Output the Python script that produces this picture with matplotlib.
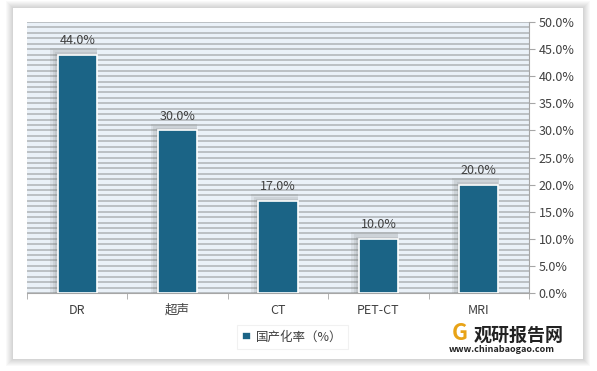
import matplotlib.pyplot as plt
import numpy as np
from matplotlib.patches import Rectangle
from matplotlib.ticker import FuncFormatter, MultipleLocator

plt.rcParams['font.family'] = ['Noto Sans CJK SC', 'DejaVu Sans']

categories = ['DR', '超声', 'CT', 'PET-CT', 'MRI']
values = [44.0, 30.0, 17.0, 10.0, 20.0]
legend_label = '国产化率（%）'

bar_color = '#1B6486'

fig = plt.figure(figsize=(5.97, 3.71), dpi=100)
fig.patch.set_facecolor('white')

# outer card with soft shadow (pixel coords -> figure fractions)
W, H = 597, 371
cx0, cy0, cx1, cy1 = 13, 8, 583, 359
for d in range(7, 0, -1):
    fig.patches.append(Rectangle(((cx0 - d) / W, 1 - (cy1 + d) / H),
                                 (cx1 - cx0 + 2 * d) / W, (cy1 - cy0 + 2 * d) / H,
                                 transform=fig.transFigure, facecolor='black', alpha=0.025,
                                 edgecolor='none', zorder=0))
fig.patches.append(Rectangle((cx0 / W, 1 - cy1 / H), (cx1 - cx0) / W, (cy1 - cy0) / H,
                             transform=fig.transFigure, facecolor='white', edgecolor='none', zorder=1))

ax = fig.add_axes([0.0452, 0.2102, 0.8410, 0.7305])
ax.set_facecolor('#EAF1F8')
ax.set_zorder(2)

x = np.arange(len(categories))
w = 0.39
# bar shadows, offset up and to the left
for k in range(3):
    ax.bar(x - 0.012 * (k + 1), np.array(values) + 0.4 * (k + 1), width=w + 0.025 * (k + 1),
           color='#6F6F6F', alpha=0.12, zorder=2)
bars = ax.bar(x, values, width=w, color=bar_color, edgecolor='white', linewidth=1.2, zorder=3)

for xi, v in zip(x, values):
    ax.text(xi, v + 1.4, f'{v:.1f}%', ha='center', va='bottom', fontsize=9, color='#404040', zorder=4)

ax.set_xlim(-0.5, len(categories) - 0.5)
ax.set_ylim(0, 50)
ax.yaxis.set_major_locator(MultipleLocator(5))
ax.yaxis.set_minor_locator(MultipleLocator(1))
ax.yaxis.set_major_formatter(FuncFormatter(lambda v, p: f'{v:.1f}%'))
ax.yaxis.tick_right()
ax.grid(axis='y', which='both', color='#B8BCC0', linewidth=1.3, zorder=1)
ax.set_axisbelow(True)
ax.tick_params(axis='y', which='major', length=4, color='#A6A6A6', labelsize=9, labelcolor='#404040', pad=3)
ax.tick_params(axis='y', which='minor', length=0)

ax.set_xticks(x)
ax.set_xticklabels(categories)
ax.set_xticks(np.arange(-0.5, len(categories)), minor=True)
ax.tick_params(axis='x', which='major', length=0, labelsize=9, labelcolor='#404040', pad=8)
ax.tick_params(axis='x', which='minor', length=4, color='#A6A6A6')

for s in ['top', 'left']:
    ax.spines[s].set_visible(False)
ax.spines['bottom'].set_color('#A6A6A6')
ax.spines['right'].set_color('#A6A6A6')

leg = fig.legend([bars], [legend_label], loc='center', bbox_to_anchor=(0.49, 0.092),
                 fontsize=9, frameon=True, handlelength=0.7, handleheight=0.7,
                 handletextpad=0.4, borderpad=0.45, fancybox=False)
leg.get_frame().set_edgecolor('#EEEEEE')
leg.get_frame().set_linewidth(0.8)
for t in leg.get_texts():
    t.set_color('#404040')

# watermark
fig.text(0.868, 0.097, '观研报告网', fontsize=13, fontweight='bold', color='#222222',
         ha='center', va='center', zorder=5)
fig.text(0.841, 0.057, 'www.chinabaogao.com', fontsize=6.5, fontweight='bold', color='#222222',
         ha='center', va='center', zorder=5)
fig.text(0.770, 0.100, 'G', fontsize=16, fontweight='bold', color='#E8A317',
         ha='center', va='center', zorder=5)

fig.savefig('out.png', dpi=100)
